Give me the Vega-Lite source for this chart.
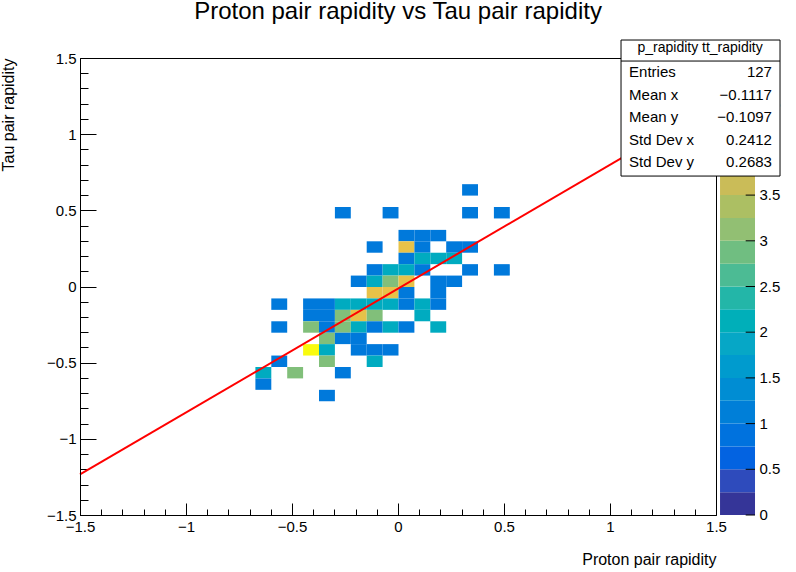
{
  "$schema": "https://vega.github.io/schema/vega-lite/v6.json",
  "width": 636,
  "height": 457,
  "autosize": "none",
  "padding": {"left": 80, "top": 58, "right": 80, "bottom": 57},
  "background": "white",
  "config": {
    "font": "Liberation Sans",
    "view": {"stroke": "black", "strokeWidth": 1},
    "axis": {"labelFont": "Liberation Sans", "titleFont": "Liberation Sans", "labelColor": "black", "titleColor": "black", "domainColor": "black", "tickColor": "black", "labelFontSize": 15, "titleFontSize": 16, "titleFontWeight": "normal", "grid": false}
  },
  "title": {"text": "Proton pair rapidity vs Tau pair rapidity", "fontSize": 24, "fontWeight": "normal", "font": "Liberation Sans", "offset": 16, "color": "black"},
  "datasets": {
    "cells": [
      {"c": 13, "r": 0, "n": 1},
      {"c": 5, "r": 2, "n": 1}, {"c": 8, "r": 2, "n": 1}, {"c": 13, "r": 2, "n": 1}, {"c": 15, "r": 2, "n": 1},
      {"c": 9, "r": 4, "n": 1}, {"c": 10, "r": 4, "n": 1}, {"c": 11, "r": 4, "n": 1},
      {"c": 7, "r": 5, "n": 1}, {"c": 9, "r": 5, "n": 4}, {"c": 10, "r": 5, "n": 1}, {"c": 12, "r": 5, "n": 1}, {"c": 13, "r": 5, "n": 1},
      {"c": 9, "r": 6, "n": 1}, {"c": 10, "r": 6, "n": 2}, {"c": 11, "r": 6, "n": 2}, {"c": 12, "r": 6, "n": 2},
      {"c": 7, "r": 7, "n": 1}, {"c": 8, "r": 7, "n": 2}, {"c": 9, "r": 7, "n": 2}, {"c": 10, "r": 7, "n": 1}, {"c": 13, "r": 7, "n": 1}, {"c": 15, "r": 7, "n": 1},
      {"c": 6, "r": 8, "n": 1}, {"c": 7, "r": 8, "n": 2}, {"c": 8, "r": 8, "n": 3}, {"c": 9, "r": 8, "n": 4}, {"c": 11, "r": 8, "n": 1}, {"c": 12, "r": 8, "n": 1},
      {"c": 7, "r": 9, "n": 4}, {"c": 8, "r": 9, "n": 4}, {"c": 9, "r": 9, "n": 1}, {"c": 11, "r": 9, "n": 1},
      {"c": 1, "r": 10, "n": 1}, {"c": 3, "r": 10, "n": 1}, {"c": 4, "r": 10, "n": 1}, {"c": 5, "r": 10, "n": 2}, {"c": 6, "r": 10, "n": 2}, {"c": 7, "r": 10, "n": 2}, {"c": 8, "r": 10, "n": 2}, {"c": 9, "r": 10, "n": 1}, {"c": 10, "r": 10, "n": 2}, {"c": 11, "r": 10, "n": 1},
      {"c": 3, "r": 11, "n": 1}, {"c": 4, "r": 11, "n": 1}, {"c": 5, "r": 11, "n": 3}, {"c": 6, "r": 11, "n": 4}, {"c": 7, "r": 11, "n": 3}, {"c": 10, "r": 11, "n": 2},
      {"c": 1, "r": 12, "n": 1}, {"c": 3, "r": 12, "n": 3}, {"c": 4, "r": 12, "n": 1}, {"c": 5, "r": 12, "n": 3}, {"c": 6, "r": 12, "n": 2}, {"c": 7, "r": 12, "n": 1}, {"c": 8, "r": 12, "n": 2}, {"c": 9, "r": 12, "n": 1}, {"c": 11, "r": 12, "n": 2},
      {"c": 4, "r": 13, "n": 3}, {"c": 5, "r": 13, "n": 1}, {"c": 6, "r": 13, "n": 1},
      {"c": 3, "r": 14, "n": 5}, {"c": 4, "r": 14, "n": 2}, {"c": 6, "r": 14, "n": 1}, {"c": 7, "r": 14, "n": 1}, {"c": 8, "r": 14, "n": 1},
      {"c": 1, "r": 15, "n": 1}, {"c": 4, "r": 15, "n": 3}, {"c": 7, "r": 15, "n": 2},
      {"c": 0, "r": 16, "n": 2}, {"c": 2, "r": 16, "n": 3}, {"c": 5, "r": 16, "n": 1},
      {"c": 0, "r": 17, "n": 1},
      {"c": 4, "r": 18, "n": 1}
    ],
    "fit": [{"x": -1.5, "y": -1.234}, {"x": 1.5, "y": 1.206}],
    "bands": [
      {"n": 0.125, "y": -1.5, "y2": -1.35}, {"n": 0.375, "y": -1.35, "y2": -1.2},
      {"n": 0.625, "y": -1.2, "y2": -1.05}, {"n": 0.875, "y": -1.05, "y2": -0.9},
      {"n": 1.125, "y": -0.9, "y2": -0.75}, {"n": 1.375, "y": -0.75, "y2": -0.6},
      {"n": 1.625, "y": -0.6, "y2": -0.45}, {"n": 1.875, "y": -0.45, "y2": -0.3},
      {"n": 2.125, "y": -0.3, "y2": -0.15}, {"n": 2.375, "y": -0.15, "y2": 0.0},
      {"n": 2.625, "y": 0.0, "y2": 0.15}, {"n": 2.875, "y": 0.15, "y2": 0.3},
      {"n": 3.125, "y": 0.3, "y2": 0.45}, {"n": 3.375, "y": 0.45, "y2": 0.6},
      {"n": 3.625, "y": 0.6, "y2": 0.75}, {"n": 3.875, "y": 0.75, "y2": 0.9},
      {"n": 4.125, "y": 0.9, "y2": 1.05}, {"n": 4.375, "y": 1.05, "y2": 1.2},
      {"n": 4.625, "y": 1.2, "y2": 1.35}, {"n": 4.875, "y": 1.35, "y2": 1.5}
    ],
    "zticks": [
      {"y": -1.5, "t": "0"}, {"y": -1.2, "t": "0.5"}, {"y": -0.9, "t": "1"}, {"y": -0.6, "t": "1.5"},
      {"y": -0.3, "t": "2"}, {"y": 0.0, "t": "2.5"}, {"y": 0.3, "t": "3"}, {"y": 0.6, "t": "3.5"},
      {"y": 0.9, "t": "4"}, {"y": 1.2, "t": "4.5"}, {"y": 1.5, "t": "5"}
    ],
    "box": [{"x": 1.052, "x2": 1.802, "y": 1.618, "y2": 0.725}],
    "sep": [{"x": 1.052, "x2": 1.802, "y": 1.48}],
    "labels": [
      {"x": 1.090, "y": 1.408, "t": "Entries"},
      {"x": 1.090, "y": 1.257, "t": "Mean x"},
      {"x": 1.090, "y": 1.113, "t": "Mean y"},
      {"x": 1.090, "y": 0.962, "t": "Std Dev x"},
      {"x": 1.090, "y": 0.817, "t": "Std Dev y"}
    ],
    "values": [
      {"x": 1.764, "y": 1.408, "t": "127"},
      {"x": 1.764, "y": 1.257, "t": "\u22120.1117"},
      {"x": 1.764, "y": 1.113, "t": "\u22120.1097"},
      {"x": 1.764, "y": 0.962, "t": "0.2412"},
      {"x": 1.764, "y": 0.817, "t": "0.2683"}
    ],
    "header": [{"x": 1.425, "y": 1.566, "t": "p_rapidity tt_rapidity"}]
  },
  "layer": [
    {
      "data": {"name": "cells"},
      "transform": [
        {"calculate": "-0.675 + 0.075 * datum.c", "as": "px"},
        {"calculate": "0.6 - 0.075 * datum.r", "as": "py"}
      ],
      "mark": {"type": "rect"},
      "encoding": {
        "x": {"field": "px", "type": "quantitative", "bin": {"binned": true, "step": 0.075},
          "scale": {"domain": [-1.5, 1.5], "nice": false, "zero": false},
          "axis": {"title": "Proton pair rapidity", "titleAnchor": "end", "titleAlign": "right", "titleY": 36, "values": [-1.5, -1, -0.5, 0, 0.5, 1, 1.5], "format": "~g", "labelExpr": "replace(datum.label, '-', '\u2212')", "tickSize": -12, "labelPadding": 16, "labelFlush": false}},
        "y": {"field": "py", "type": "quantitative", "bin": {"binned": true, "step": 0.075},
          "scale": {"domain": [-1.5, 1.5], "nice": false, "zero": false},
          "axis": {"title": "Tau pair rapidity", "titleAnchor": "end", "titleX": -64, "values": [-1.5, -1, -0.5, 0, 0.5, 1, 1.5], "format": "~g", "labelExpr": "replace(datum.label, '-', '\u2212')", "tickSize": -16, "labelPadding": 20, "labelFlush": false}},
        "color": {"field": "n", "type": "quantitative",
          "scale": {"domain": [0, 5], "range": ["#352a87", "#0363e1", "#1485d4", "#06a7c6", "#38b99e", "#92bf73", "#d9ba56", "#fcce2e", "#f9fb0e"]},
          "legend": null}
      }
    },
    {
      "data": {"name": "fit"},
      "mark": {"type": "line", "color": "#ff0000", "strokeWidth": 2},
      "encoding": {
        "x": {"field": "x", "type": "quantitative", "axis": {"orient": "bottom", "values": [-1.4, -1.3, -1.2, -1.1, -0.9, -0.8, -0.7, -0.6, -0.4, -0.3, -0.2, -0.1, 0.1, 0.2, 0.3, 0.4, 0.6, 0.7, 0.8, 0.9, 1.1, 1.2, 1.3, 1.4], "labels": false, "domain": false, "tickSize": -6, "title": null}},
        "y": {"field": "y", "type": "quantitative", "axis": {"orient": "left", "values": [-1.4, -1.3, -1.2, -1.1, -0.9, -0.8, -0.7, -0.6, -0.4, -0.3, -0.2, -0.1, 0.1, 0.2, 0.3, 0.4, 0.6, 0.7, 0.8, 0.9, 1.1, 1.2, 1.3, 1.4], "labels": false, "domain": false, "tickSize": -8, "title": null}}
      }
    },
    {
      "data": {"name": "bands"},
      "mark": {"type": "rect", "clip": false},
      "encoding": {
        "x": {"datum": 1.519, "type": "quantitative", "axis": null}, "x2": {"datum": 1.684},
        "y": {"field": "y", "type": "quantitative", "axis": null}, "y2": {"field": "y2"},
        "color": {"field": "n", "type": "quantitative", "legend": null}
      }
    },
    {
      "data": {"name": "zticks"},
      "mark": {"type": "rule", "color": "black", "clip": false},
      "encoding": {"x": {"datum": 1.64, "type": "quantitative", "axis": null}, "x2": {"datum": 1.684}, "y": {"field": "y", "type": "quantitative", "axis": null}}
    },
    {
      "data": {"name": "zticks"},
      "mark": {"type": "text", "align": "left", "baseline": "middle", "fontSize": 15, "font": "Liberation Sans", "clip": false},
      "encoding": {"x": {"datum": 1.705, "type": "quantitative", "axis": null}, "y": {"field": "y", "type": "quantitative", "axis": null}, "text": {"field": "t"}}
    },
    {
      "data": {"name": "box"},
      "mark": {"type": "rect", "fill": "white", "stroke": "black", "strokeWidth": 1, "clip": false},
      "encoding": {"x": {"field": "x", "type": "quantitative", "axis": null}, "x2": {"field": "x2"}, "y": {"field": "y", "type": "quantitative", "axis": null}, "y2": {"field": "y2"}}
    },
    {
      "data": {"name": "sep"},
      "mark": {"type": "rule", "color": "black", "strokeWidth": 1, "clip": false},
      "encoding": {"x": {"field": "x", "type": "quantitative", "axis": null}, "x2": {"field": "x2"}, "y": {"field": "y", "type": "quantitative", "axis": null}}
    },
    {
      "data": {"name": "header"},
      "mark": {"type": "text", "align": "center", "baseline": "middle", "fontSize": 14, "font": "Liberation Sans", "clip": false},
      "encoding": {"x": {"field": "x", "type": "quantitative", "axis": null}, "y": {"field": "y", "type": "quantitative", "axis": null}, "text": {"field": "t"}}
    },
    {
      "data": {"name": "labels"},
      "mark": {"type": "text", "align": "left", "baseline": "middle", "fontSize": 15, "font": "Liberation Sans", "clip": false},
      "encoding": {"x": {"field": "x", "type": "quantitative", "axis": null}, "y": {"field": "y", "type": "quantitative", "axis": null}, "text": {"field": "t"}}
    },
    {
      "data": {"name": "values"},
      "mark": {"type": "text", "align": "right", "baseline": "middle", "fontSize": 15, "font": "Liberation Sans", "clip": false},
      "encoding": {"x": {"field": "x", "type": "quantitative", "axis": null}, "y": {"field": "y", "type": "quantitative", "axis": null}, "text": {"field": "t"}}
    }
  ],
  "resolve": {"axis": {"x": "independent", "y": "independent"}}
}
